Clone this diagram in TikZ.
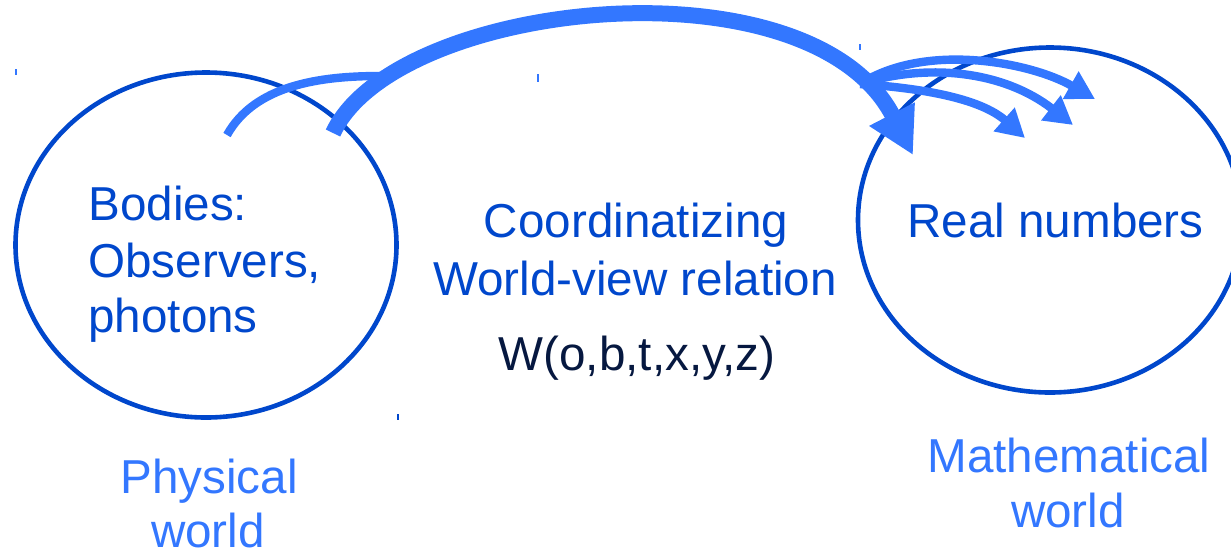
\documentclass[tikz,border=0pt]{standalone}
\usepackage{fontspec}
\setmainfont{Liberation Sans}
\usetikzlibrary{arrows.meta,shapes.geometric}

\definecolor{ringblue}{RGB}{0,71,204}
\definecolor{arrowblue}{RGB}{51,119,255}
\definecolor{inkblue}{RGB}{6,24,64}

\tikzset{
  world/.style={ellipse, draw=ringblue, line width=2.3pt, inner sep=0pt},
  txt/.style={inner sep=0pt, font=\fontsize{23.8}{28}\selectfont},
  mapthin/.style={draw=arrowblue, line width=4.2pt, -{Triangle[length=14pt,width=15pt]}},
  mapthick/.style={draw=arrowblue, line width=8pt, -{Triangle[length=23pt,width=24pt]}},
  stub/.style={line width=0.75pt}
}

\begin{document}
\begin{tikzpicture}[x=0.5pt,y=-0.5pt]
 \useasboundingbox (0,0) rectangle (1231,553);

 %the two worlds
 \node [world, minimum width=190.5pt, minimum height=172.5pt] (phys) at (206,245) {};
 \node [world, minimum width=192pt, minimum height=172.5pt] (math) at (1050,220) {};

 %ends of the arrows
 \coordinate (tailA) at (227,135);
 \coordinate (joinA) at (380,76);
 \coordinate (tailB) at (333,133);
 \coordinate (headB) at (913,155);
 \coordinate (fork) at (860,84);
 \coordinate (head1) at (1095,99);
 \coordinate (head2) at (1073,125);
 \coordinate (head3) at (1025,138);

 %thin arrows
 \draw [draw=arrowblue, line width=4.2pt] (tailA) .. controls (255,85) and (320,76) .. (joinA);
 \draw [mapthin] (fork) .. controls (925,42) and (1030,62) .. (head1);
 \draw [mapthin] (fork) .. controls (930,62) and (1005,72) .. (head2);
 \draw [mapthin] (fork) .. controls (920,88) and (980,98) .. (head3);

 %thick arrow
 \draw [mapthick] (tailB) .. controls (395,0) and (810,-45) .. (headB);

 %texts in the worlds
 \node [txt, text=ringblue, anchor=base west] (bodies) at (88,220) {Bodies:};
 \node [txt, text=ringblue, anchor=base west] (observers) at (88,277) {Observers,};
 \node [txt, text=ringblue, anchor=base west] (photons) at (88,332) {photons};
 \node [txt, text=ringblue, anchor=base west] (reals) at (907,237) {Real numbers};

 %relation in the middle
 \node [txt, text=ringblue, anchor=base] (coord) at (636,237) {Coordinatizing};
 \node [txt, text=ringblue, anchor=base] (wview) at (635,295) {World-view relation};
 \node [txt, text=inkblue, anchor=base] (wrel) at (637,370) {W(o,b,t,x,y,z)};

 %captions
 \node [txt, text=arrowblue, anchor=base] (physA) at (209,493) {Physical};
 \node [txt, text=arrowblue, anchor=base] (physB) at (208,547) {world};
 \node [txt, text=arrowblue, anchor=base] (mathA) at (1069,472) {Mathematical};
 \node [txt, text=arrowblue, anchor=base] (mathB) at (1068,527) {world};

 %small marks
 \draw [stub, arrowblue] (16,69) -- (16,75);
 \draw [stub, arrowblue] (538,74) -- (538,82);
 \draw [stub, arrowblue] (860,44) -- (860,50);
 \draw [stub, ringblue] (398,414) -- (398,420);
\end{tikzpicture}
\end{document}
